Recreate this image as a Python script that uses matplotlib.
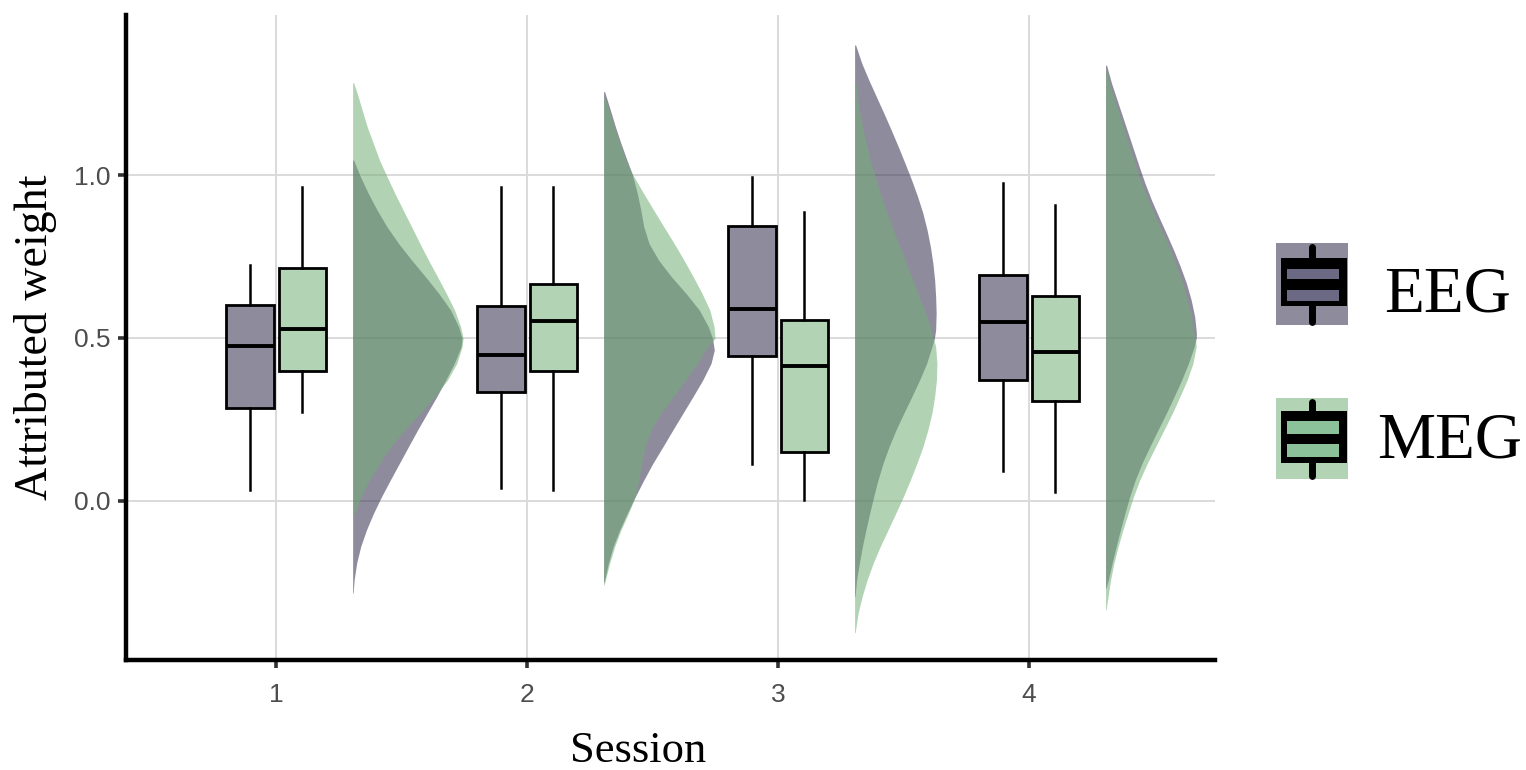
import matplotlib
matplotlib.use("Agg")
import matplotlib.pyplot as plt
from matplotlib.patches import Rectangle

# ─── DATA ─────────────────────────────────────────────────────────────────────
sessions = [1, 2, 3, 4]
modalities = ["EEG", "MEG"]

# box summaries per session: lower whisker, Q1, median, Q3, upper whisker
eeg_whislo = [0.034, 0.040, 0.113, 0.093]
eeg_q1     = [0.284, 0.334, 0.444, 0.370]
eeg_med    = [0.474, 0.448, 0.589, 0.549]
eeg_q3     = [0.600, 0.598, 0.845, 0.692]
eeg_whishi = [0.723, 0.964, 0.993, 0.976]

meg_whislo = [0.274, 0.034, 0.003, 0.026]
meg_q1     = [0.400, 0.400, 0.151, 0.307]
meg_med    = [0.529, 0.551, 0.414, 0.457]
meg_q3     = [0.714, 0.666, 0.555, 0.630]
meg_whishi = [0.964, 0.962, 0.886, 0.908]

# half-violin outlines: weight value and density width (x units), top to bottom
eeg_dens_y = [
    [1.046, 1.0, 0.944, 0.893, 0.841, 0.790, 0.739, 0.688, 0.637, 0.586, 0.535, 0.499,
     0.473, 0.422, 0.371, 0.320, 0.269, 0.218, 0.166, 0.115, 0.064, 0.013, -0.038,
     -0.089, -0.140, -0.191, -0.242, -0.283],
    [1.256, 1.199, 1.148, 1.097, 1.046, 1.0, 0.944, 0.893, 0.841, 0.790, 0.739, 0.688,
     0.637, 0.586, 0.535, 0.499, 0.463, 0.422, 0.371, 0.320, 0.269, 0.218, 0.166,
     0.115, 0.064, 0.013, -0.038, -0.089, -0.140, -0.191, -0.250],
    [1.399, 1.342, 1.291, 1.240, 1.189, 1.138, 1.087, 1.036, 0.985, 0.934, 0.883, 0.831,
     0.780, 0.729, 0.678, 0.627, 0.576, 0.525, 0.499, 0.473, 0.422, 0.371, 0.320,
     0.269, 0.218, 0.166, 0.115, 0.064, 0.013, -0.038, -0.089, -0.140, -0.191,
     -0.242, -0.293],
    [1.337, 1.281, 1.230, 1.179, 1.128, 1.077, 1.026, 0.975, 0.923, 0.872, 0.821, 0.770,
     0.719, 0.668, 0.617, 0.566, 0.515, 0.499, 0.473, 0.422, 0.371, 0.320, 0.269,
     0.218, 0.166, 0.115, 0.064, 0.013, -0.038, -0.089, -0.140, -0.191, -0.242, -0.268],
]
eeg_dens_w = [
    [0.004, 0.028, 0.062, 0.097, 0.137, 0.183, 0.235, 0.290, 0.343, 0.390, 0.422, 0.436,
     0.432, 0.405, 0.371, 0.335, 0.297, 0.259, 0.222, 0.186, 0.150, 0.115, 0.083,
     0.055, 0.032, 0.016, 0.006, 0.002],
    [0.004, 0.027, 0.047, 0.069, 0.093, 0.115, 0.134, 0.148, 0.160, 0.181, 0.219, 0.270,
     0.328, 0.381, 0.417, 0.434, 0.441, 0.428, 0.395, 0.356, 0.316, 0.276, 0.236,
     0.196, 0.160, 0.126, 0.094, 0.064, 0.038, 0.019, 0.002],
    [0.004, 0.029, 0.057, 0.087, 0.117, 0.146, 0.174, 0.201, 0.227, 0.251, 0.272, 0.289,
     0.302, 0.312, 0.319, 0.323, 0.325, 0.323, 0.318, 0.308, 0.287, 0.259, 0.228,
     0.196, 0.165, 0.137, 0.113, 0.093, 0.076, 0.060, 0.045, 0.031, 0.019, 0.008, 0.002],
    [0.004, 0.024, 0.046, 0.068, 0.090, 0.112, 0.134, 0.157, 0.183, 0.212, 0.242, 0.271,
     0.298, 0.322, 0.341, 0.355, 0.362, 0.361, 0.353, 0.330, 0.303, 0.273, 0.242,
     0.209, 0.176, 0.145, 0.118, 0.096, 0.077, 0.059, 0.042, 0.026, 0.011, 0.002],
]
meg_dens_y = [
    [1.283, 1.251, 1.148, 1.046, 1.0, 0.944, 0.893, 0.841, 0.790, 0.739, 0.688, 0.637,
     0.586, 0.535, 0.499, 0.473, 0.422, 0.371, 0.320, 0.269, 0.218, 0.166, 0.115,
     0.064, 0.013, -0.038, -0.048],
    [1.240, 1.199, 1.148, 1.097, 1.046, 1.0, 0.944, 0.893, 0.841, 0.790, 0.739, 0.688,
     0.637, 0.586, 0.535, 0.499, 0.473, 0.422, 0.371, 0.320, 0.269, 0.218, 0.166,
     0.115, 0.064, 0.013, -0.038, -0.089, -0.140, -0.191, -0.258],
    [1.290, 1.240, 1.189, 1.138, 1.036, 0.934, 0.831, 0.729, 0.627, 0.576, 0.525, 0.473,
     0.422, 0.371, 0.320, 0.269, 0.218, 0.166, 0.115, 0.064, 0.013, -0.038, -0.089,
     -0.140, -0.191, -0.242, -0.293, -0.344, -0.395, -0.405],
    [1.320, 1.281, 1.179, 1.077, 0.975, 0.872, 0.770, 0.668, 0.566, 0.515, 0.499, 0.473,
     0.422, 0.371, 0.320, 0.269, 0.218, 0.166, 0.115, 0.064, 0.013, -0.038, -0.089,
     -0.140, -0.191, -0.242, -0.293, -0.334],
]
meg_dens_w = [
    [0.004, 0.018, 0.058, 0.107, 0.134, 0.168, 0.201, 0.235, 0.268, 0.302, 0.338, 0.373,
     0.406, 0.430, 0.440, 0.436, 0.415, 0.378, 0.328, 0.269, 0.208, 0.152, 0.106,
     0.067, 0.033, 0.008, 0.002],
    [0.004, 0.022, 0.043, 0.065, 0.089, 0.117, 0.159, 0.199, 0.240, 0.281, 0.320, 0.357,
     0.392, 0.423, 0.440, 0.444, 0.415, 0.372, 0.326, 0.278, 0.228, 0.188, 0.165,
     0.152, 0.140, 0.126, 0.099, 0.069, 0.044, 0.024, 0.002],
    [0.004, 0.011, 0.021, 0.034, 0.066, 0.106, 0.154, 0.206, 0.258, 0.284, 0.305, 0.323,
     0.328, 0.326, 0.319, 0.308, 0.292, 0.272, 0.248, 0.222, 0.194, 0.164, 0.133,
     0.102, 0.074, 0.050, 0.030, 0.014, 0.004, 0.002],
    [0.004, 0.016, 0.058, 0.100, 0.143, 0.199, 0.259, 0.308, 0.343, 0.353, 0.358, 0.361,
     0.348, 0.325, 0.296, 0.266, 0.233, 0.199, 0.166, 0.136, 0.111, 0.090, 0.069,
     0.050, 0.033, 0.020, 0.010, 0.002],
]
# ──────────────────────────────────────────────────────────────────────────────

EEG_DARK = (50 / 255, 46 / 255, 75 / 255)
MEG_DARK = (115 / 255, 173 / 255, 119 / 255)
EEG_BOX = "#8e8c9c"
MEG_BOX = "#b3d3b5"
DENS_ALPHA = 0.55
BOX_OFFSET = 0.105
BOX_WIDTH = 0.19
VIOLIN_OFFSET = 0.305

SANS = "Liberation Sans"
SERIF = "Liberation Serif"

fig = plt.figure(figsize=(15.26, 7.70), dpi=100)
ax = fig.add_axes([126 / 1526, 1 - 660 / 770, (1215 - 126) / 1526, (660 - 15) / 770])

# half violins, EEG underneath MEG
for i, s in enumerate(sessions):
    base = s + VIOLIN_OFFSET
    ax.fill_betweenx(eeg_dens_y[i], base, [base + w for w in eeg_dens_w[i]],
                     color=EEG_DARK, alpha=DENS_ALPHA, lw=0, zorder=2)
    ax.fill_betweenx(meg_dens_y[i], base, [base + w for w in meg_dens_w[i]],
                     color=MEG_DARK, alpha=DENS_ALPHA, lw=0, zorder=3)


def box_stats(lo, q1, med, q3, hi):
    return [dict(whislo=a, q1=b, med=c, q3=d, whishi=e, fliers=[])
            for a, b, c, d, e in zip(lo, q1, med, q3, hi)]


box_kw = dict(widths=BOX_WIDTH, patch_artist=True, showfliers=False, showcaps=False,
              boxprops=dict(edgecolor="black", linewidth=2.0),
              whiskerprops=dict(color="black", linewidth=1.8),
              medianprops=dict(color="black", linewidth=2.8), zorder=4)
b1 = ax.bxp(box_stats(eeg_whislo, eeg_q1, eeg_med, eeg_q3, eeg_whishi),
            positions=[s - BOX_OFFSET for s in sessions], **box_kw)
b2 = ax.bxp(box_stats(meg_whislo, meg_q1, meg_med, meg_q3, meg_whishi),
            positions=[s + BOX_OFFSET for s in sessions], **box_kw)
for p in b1["boxes"]:
    p.set_facecolor(EEG_BOX)
for p in b2["boxes"]:
    p.set_facecolor(MEG_BOX)

ax.set_xlim(0.402, 4.741)
ax.set_ylim(-0.488, 1.491)
ax.set_xticks(sessions)
ax.set_xticklabels([str(s) for s in sessions])
ax.set_yticks([0.0, 0.5, 1.0])
ax.set_yticklabels(["0.0", "0.5", "1.0"])
ax.grid(True, color="#dadada", linewidth=1.4, zorder=0)
ax.set_axisbelow(True)
for side in ["top", "right"]:
    ax.spines[side].set_visible(False)
for side in ["left", "bottom"]:
    ax.spines[side].set_linewidth(3.2)
    ax.spines[side].set_color("black")
ax.tick_params(axis="both", length=5.5, width=2.6, color="#333333",
               labelcolor="#4d4d4d", labelsize=19)
ax.tick_params(axis="x", pad=11)
ax.tick_params(axis="y", pad=6)
for lab in ax.get_xticklabels() + ax.get_yticklabels():
    lab.set_family(SANS)

# overlay in pixel units for titles and legend
ov = fig.add_axes([0, 0, 1, 1], zorder=10)
ov.set_xlim(0, 1526)
ov.set_ylim(770, 0)
ov.axis("off")
ov.patch.set_alpha(0)

ov.text(638, 762, "Session", ha="center", va="baseline", fontsize=32, family=SERIF)
ov.text(36, 337, "Attributed weight", ha="center", va="center", rotation=90,
        fontsize=33, family=SERIF)

# legend keys: coloured square with a boxplot glyph
keys = [
    ("EEG", EEG_BOX, "#6b6983", 243, 325, 258, 306, 269, 279, 290, 301, 1384, 311),
    ("MEG", MEG_BOX, "#8cc29a", 398, 479, 411, 463, 421, 434, 444, 457, 1377, 458),
]
for name, bg, stripe, top, bot, btop, bbot, s1a, s1b, s2a, s2b, tx, ty in keys:
    ov.add_patch(Rectangle((1276, top), 72, bot - top, facecolor=bg, edgecolor="none",
                           zorder=1))
    ov.plot([1312, 1312], [top + 4, bot - 3], color="black", lw=5,
            solid_capstyle="round", zorder=2)
    ov.add_patch(Rectangle((1281, btop), 66, bbot - btop, facecolor="black",
                           edgecolor="none", zorder=3))
    ov.add_patch(Rectangle((1287, s1a), 52, s1b - s1a, facecolor=stripe,
                           edgecolor="none", zorder=4))
    ov.add_patch(Rectangle((1287, s2a), 52, s2b - s2a, facecolor=stripe,
                           edgecolor="none", zorder=4))
    ov.text(tx, ty, name, ha="left", va="baseline", fontsize=47, family=SERIF)

fig.savefig("out.png", dpi=100)
